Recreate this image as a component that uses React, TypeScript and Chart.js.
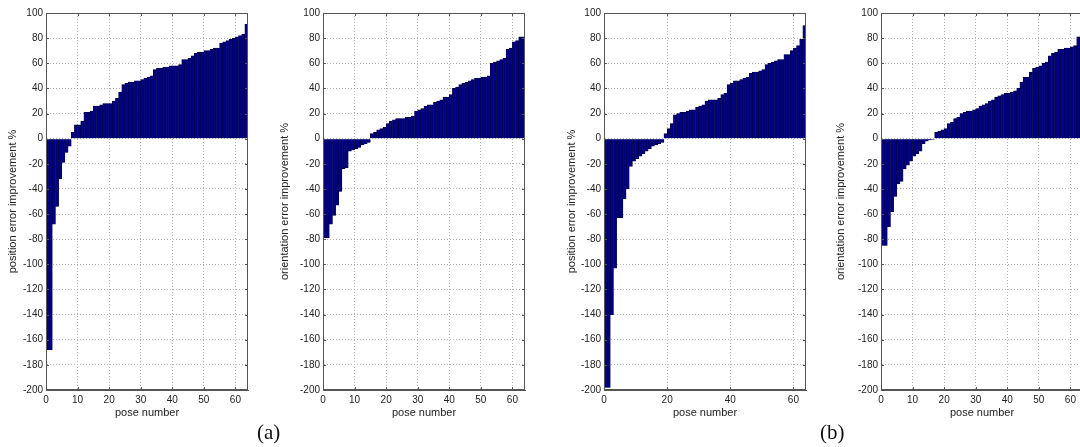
import React, { useEffect, useRef } from "react";
import { Chart, registerables } from "chart.js";

Chart.register(...registerables);

// ---------- data ----------
const POSE_NUMBERS: number[] = Array.from({ length: 64 }, (_, i) => i + 1);
const Y_TICKS = [-200, -180, -160, -140, -120, -100, -80, -60, -40, -20, 0, 20, 40, 60, 80, 100];
const X_TICKS_10 = [0, 10, 20, 30, 40, 50, 60];
const X_TICKS_20 = [0, 20, 40, 60];

// (a) position error improvement %
const POS_A = [
  -168, -168, -68, -54, -32, -19, -11, -6, 5, 11, 11, 14, 21, 21, 22, 26,
  26, 27, 28, 28, 28, 30, 32, 37, 43, 44, 45, 45, 46, 46, 47, 48,
  49, 50, 55, 56, 56, 57, 57, 58, 58, 58, 59, 63, 63, 64, 66, 68,
  69, 69, 70, 70, 71, 72, 72, 76, 77, 78, 79, 80, 81, 82, 83, 91,
];
// (a) orientation error improvement %
const ORI_A = [
  -79, -79, -68, -61, -53, -42, -24, -23, -10, -9, -8, -7, -5, -4, -3, 4,
  5, 7, 8, 9, 12, 14, 15, 16, 16, 16, 17, 17, 18, 22, 23, 24,
  26, 27, 27, 29, 30, 31, 33, 33, 35, 40, 41, 43, 44, 45, 46, 47,
  48, 48, 49, 49, 50, 60, 61, 62, 63, 64, 71, 72, 77, 78, 81, 81,
];
// (b) position error improvement %
const POS_B = [
  -198, -198, -140, -103, -63, -63, -48, -40, -22, -18, -16, -14, -12, -10, -8, -6,
  -5, -4, -3, 4, 8, 12, 19, 20, 21, 21, 22, 23, 23, 25, 26, 27,
  30, 31, 31, 31, 32, 35, 36, 43, 44, 46, 46, 47, 48, 49, 52, 53,
  53, 54, 55, 59, 60, 61, 62, 63, 63, 67, 67, 70, 72, 74, 79, 90,
];
// (b) orientation error improvement %
const ORI_B = [
  -85, -85, -70, -58, -46, -36, -34, -24, -21, -18, -14, -12, -10, -4, -2, -1,
  -0.5, 5, 6, 7, 8, 12, 13, 16, 17, 20, 21, 22, 22, 23, 24, 26,
  27, 28, 30, 31, 33, 34, 35, 36, 36, 37, 38, 40, 45, 49, 49, 53,
  56, 57, 58, 60, 61, 66, 68, 69, 71, 71, 72, 72, 73, 74, 81, 81,
];

const POSITION_TITLE = "position error improvement %";
const ORIENTATION_TITLE = "orientation error improvement %";
const X_TITLE = "pose number";

// ---------- layout ----------
const Y_AXIS_W = 50;
const PLOT_W = 202;
const PLOT_TOP = 13;
const X_AXIS_H = 30;
const PLOT_BOTTOM = 390;
const H = 447;

const PANELS = [
  { values: POS_A, yTitle: POSITION_TITLE, xTicks: X_TICKS_10, plotLeft: 46, titleOffset: 33 },
  { values: ORI_A, yTitle: ORIENTATION_TITLE, xTicks: X_TICKS_10, plotLeft: 323, titleOffset: 38 },
  { values: POS_B, yTitle: POSITION_TITLE, xTicks: X_TICKS_20, plotLeft: 604, titleOffset: 32 },
  { values: ORI_B, yTitle: ORIENTATION_TITLE, xTicks: X_TICKS_10, plotLeft: 881, titleOffset: 40 },
];

const TICK_FONT = { family: "'Liberation Sans', Arial, Helvetica, sans-serif", size: 10 };
const TITLE_FONT = { family: "'Liberation Sans', Arial, Helvetica, sans-serif", size: 11 };
const TEXT_COLOR = "#222";
const AXIS_COLOR = "#555";
const GRID_COLOR = "#b4b4b4";

const framePlugin = {
  id: "matlabFrame",
  afterDatasetsDraw(chart: any) {
    const { ctx, chartArea: a, scales } = chart;
    const ys = scales.y;
    const xs = scales.x2;
    ctx.save();
    ctx.strokeStyle = AXIS_COLOR;
    ctx.lineWidth = 1;
    ctx.strokeRect(Math.round(a.left) + 0.5, Math.round(a.top) + 0.5, Math.round(a.right - a.left) - 1, Math.round(a.bottom - a.top) - 1);
    ctx.beginPath();
    ys.ticks.forEach((t: any) => {
      const py = Math.round(ys.getPixelForValue(t.value)) + 0.5;
      ctx.moveTo(a.left, py);
      ctx.lineTo(a.left + 3, py);
      ctx.moveTo(a.right, py);
      ctx.lineTo(a.right - 3, py);
    });
    xs.ticks.forEach((t: any) => {
      const px = Math.round(xs.getPixelForValue(t.value)) + 0.5;
      ctx.moveTo(px, a.bottom);
      ctx.lineTo(px, a.bottom - 3);
      ctx.moveTo(px, a.top);
      ctx.lineTo(px, a.top + 3);
    });
    ctx.stroke();
    ctx.restore();
  },
};

function Panel({ values, yTitle, xTicks, plotLeft, titleOffset }: any) {
  const ref = useRef<HTMLCanvasElement>(null);
  useEffect(() => {
    if (!ref.current) return;
    const titlePad = Y_AXIS_W - titleOffset - (TITLE_FONT.size * 1.2) / 2;
    const chart = new Chart(ref.current, {
      type: "bar",
      data: {
        labels: POSE_NUMBERS.map(String),
        datasets: [
          {
            data: values,
            backgroundColor: "#000080",
            borderColor: "#00003c",
            borderWidth: 0.6,
            borderSkipped: "start",
            categoryPercentage: 1,
            barPercentage: 1,
          },
        ],
      },
      options: {
        animation: false,
        responsive: true,
        maintainAspectRatio: false,
        events: [],
        layout: {
          padding: { top: PLOT_TOP, bottom: H - PLOT_BOTTOM - X_AXIS_H, left: 0, right: 2 },
        },
        plugins: { legend: { display: false }, tooltip: { enabled: false } },
        scales: {
          x: { type: "category", display: false, offset: true },
          x2: {
            type: "linear",
            position: "bottom",
            axis: "x",
            offset: false,
            min: 0,
            max: 64,
            afterBuildTicks: (s: any) => {
              s.ticks = xTicks.map((v: number) => ({ value: v }));
            },
            afterFit: (s: any) => {
              s.height = X_AXIS_H;
            },
            grid: { color: GRID_COLOR, drawTicks: false, lineWidth: 1, offset: false },
            border: { display: true, color: AXIS_COLOR, dash: [1, 2] },
            ticks: { font: TICK_FONT, color: TEXT_COLOR, padding: 4, maxRotation: 0, autoSkip: false },
            title: { display: true, text: X_TITLE, font: TITLE_FONT, color: TEXT_COLOR, padding: { top: 0, bottom: 0 } },
          },
          y: {
            type: "linear",
            min: -200,
            max: 100,
            afterBuildTicks: (s: any) => {
              s.ticks = Y_TICKS.map((v) => ({ value: v }));
            },
            afterFit: (s: any) => {
              s.width = Y_AXIS_W;
            },
            grid: { color: GRID_COLOR, drawTicks: false, lineWidth: 1 },
            border: { display: true, color: AXIS_COLOR, dash: [1, 2] },
            ticks: { font: TICK_FONT, color: TEXT_COLOR, padding: 3, autoSkip: false },
            title: { display: true, text: yTitle, font: TITLE_FONT, color: TEXT_COLOR, padding: { top: titlePad, bottom: 0 } },
          },
        },
      },
      plugins: [framePlugin],
    } as any);
    return () => chart.destroy();
  }, []);
  const left = plotLeft - Y_AXIS_W;
  const width = Y_AXIS_W + PLOT_W + 2;
  return (
    <div style={{ position: "absolute", left, top: 0, width, height: H }}>
      <canvas ref={ref} />
    </div>
  );
}

const CAPTION_STYLE: any = {
  position: "absolute",
  top: 420,
  font: "21px 'Liberation Serif', 'Times New Roman', serif",
  lineHeight: "24px",
  color: "#111",
};

export default function App() {
  return (
    <div
      style={{
        position: "fixed",
        left: 0,
        top: 0,
        width: 1080,
        height: H,
        overflow: "hidden",
        background: "#fff",
      }}
    >
      {PANELS.map((p, i) => (
        <Panel key={i} {...p} />
      ))}
      <div style={{ ...CAPTION_STYLE, left: 257 }}>(a)</div>
      <div style={{ ...CAPTION_STYLE, left: 820 }}>(b)</div>
    </div>
  );
}
